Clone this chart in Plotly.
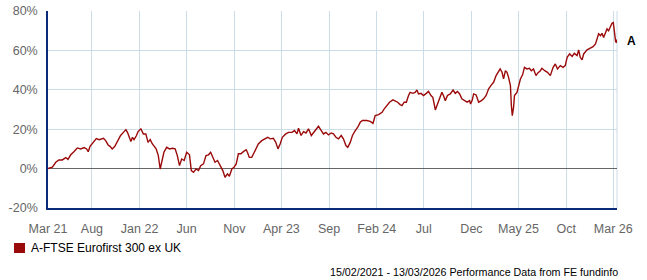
import pandas as pd
import plotly.graph_objects as go

START = "2021-03-13"
END = "2026-03-13"

# days since START and cumulative performance (%)
day_offsets = [0, 14, 25, 35, 46, 57, 64, 73, 83, 94, 105, 116, 124, 129, 135, 145, 155, 164, 178, 185,
               193, 199, 206, 214, 223, 233, 242, 250, 255, 260, 266, 271, 276, 284, 289, 298, 306, 314, 321, 328,
               335, 347, 354, 360, 365, 372, 381, 390, 400, 408, 415, 422, 429, 437, 445, 454, 460, 467, 475, 483,
               490, 499, 507, 515, 522, 529, 536, 544, 552, 561, 568, 576, 582, 590, 597, 604, 611, 619, 627, 636,
               640, 646, 654, 662, 668, 675, 686, 695, 705, 713, 723, 731, 738, 745, 752, 763, 772, 783, 791, 799,
               804, 812, 820, 828, 836, 845, 852, 860, 868, 877, 884, 892, 900, 909, 916, 924, 932, 941, 948, 956,
               962, 970, 977, 986, 994, 1002, 1009, 1023, 1034, 1043, 1050, 1061, 1072, 1079, 1088, 1096, 1107, 1114, 1122, 1130,
               1136, 1143, 1150, 1157, 1162, 1171, 1178, 1184, 1189, 1197, 1205, 1214, 1221, 1229, 1235, 1243, 1248, 1257, 1264, 1269,
               1275, 1282, 1291, 1300, 1307, 1314, 1321, 1328, 1336, 1345, 1353, 1356, 1361, 1366, 1374, 1382, 1391, 1398, 1406, 1414,
               1423, 1430, 1438, 1446, 1451, 1457, 1462, 1468, 1473, 1478, 1484, 1487, 1490, 1494, 1497, 1505, 1510, 1516, 1523, 1529,
               1537, 1545, 1551, 1558, 1566, 1572, 1580, 1585, 1594, 1603, 1612, 1621, 1628, 1635, 1644, 1653, 1660, 1666, 1674, 1682,
               1689, 1698, 1703, 1708, 1714, 1719, 1730, 1740, 1749, 1757, 1762, 1767, 1773, 1778, 1783, 1789, 1794, 1799, 1805, 1810,
               1814, 1818, 1822, 1824, 1826]

performance = [0.0, 0.7, 3.2, 4.4, 4.4, 5.6, 4.7, 7.0, 8.6, 10.5, 10.0, 10.7, 10.0, 8.6, 11.3, 13.0, 15.2, 14.7, 15.4, 14.2,
               12.0, 11.3, 10.0, 11.2, 14.2, 16.8, 18.4, 19.8, 18.4, 15.9, 13.7, 15.9, 14.7, 16.8, 18.8, 20.2, 17.6, 17.6, 13.3, 14.7,
               12.5, 10.0, 6.6, -0.2, 3.2, 8.3, 10.8, 10.0, 10.3, 10.0, 6.6, 1.5, 4.9, 4.1, 8.3, 7.0, -1.0, -1.9, -0.2, -1.0,
               1.5, 2.4, 6.6, 7.0, 8.3, 5.7, 3.2, 4.1, 1.5, -1.0, -4.4, -2.7, -3.9, -0.2, 0.7, 2.4, 7.5, 7.5, 8.6, 9.6,
               8.3, 5.7, 5.7, 8.3, 10.8, 12.5, 14.2, 15.1, 15.9, 15.1, 15.4, 13.3, 10.0, 12.5, 15.9, 17.6, 18.4, 18.4, 19.3, 17.6,
               20.5, 16.8, 18.8, 18.1, 20.2, 16.8, 18.4, 19.8, 21.5, 19.3, 17.6, 18.4, 17.1, 18.1, 17.6, 15.9, 15.1, 16.8, 15.1, 11.7,
               10.8, 13.3, 16.8, 19.3, 21.0, 23.5, 24.4, 24.4, 24.0, 23.0, 26.9, 27.4, 28.6, 30.3, 32.0, 33.7, 34.9, 34.5, 33.7, 32.5,
               32.0, 33.7, 33.7, 37.1, 38.7, 38.2, 38.7, 39.9, 37.9, 38.2, 37.1, 38.2, 39.2, 37.1, 36.2, 29.8, 32.0, 36.2, 38.7, 37.1,
               34.5, 37.1, 37.9, 39.9, 38.2, 39.2, 37.9, 35.4, 34.5, 33.7, 34.5, 32.8, 34.5, 37.9, 37.4, 33.7, 34.5, 35.4, 37.1, 40.5,
               42.5, 43.8, 47.2, 49.2, 50.6, 48.9, 45.5, 49.7, 48.9, 46.3, 42.1, 32.0, 26.9, 31.1, 37.1, 38.7, 42.1, 45.5, 47.6, 51.4,
               50.6, 50.9, 49.7, 50.6, 47.2, 48.6, 49.7, 50.9, 49.7, 48.9, 47.2, 51.4, 53.1, 50.6, 52.3, 51.4, 52.3, 56.5, 58.2, 56.9,
               58.5, 57.4, 60.3, 56.5, 55.2, 58.2, 60.3, 61.3, 61.9, 63.3, 65.8, 68.4, 67.5, 68.7, 66.6, 69.2, 70.9, 70.0, 72.6, 73.8,
               74.1, 67.5, 64.1, 65.5, 63.7]

tick_dates = ["2021-03-13", "2021-08-01", "2022-01-01", "2022-06-01", "2022-11-01", "2023-04-01", "2023-09-01",
              "2024-02-01", "2024-07-01", "2024-12-01", "2025-05-01", "2025-10-01", "2026-03-01"]
tick_labels = ["Mar 21", "Aug", "Jan 22", "Jun", "Nov", "Apr 23", "Sep", "Feb 24", "Jul", "Dec", "May 25", "Oct", "Mar 26"]

y_ticks = [-20, 0, 20, 40, 60, 80]
y_tick_labels = ["-20%", "0%", "20%", "40%", "60%", "80%"]

series_name = "A-FTSE Eurofirst 300 ex UK"
series_label = "A"
footer = "15/02/2021 - 13/03/2026 Performance Data from FE fundinfo"

dates = pd.Timestamp(START) + pd.to_timedelta(day_offsets, unit="D")

LINE = "#9b0a0a"
GRID = "#cddde8"
AXIS = "#0a2a7a"
FONT = "Liberation Sans, Arial, sans-serif"

W, H = 647, 280
ML, MR, MT, MB = 48, 30, 11, 72
PW, PH = W - ML - MR, H - MT - MB


def px_x(px):
    return (px - ML) / PW


def px_y(py):
    return (H - MB - py) / PH


fig = go.Figure()
fig.add_trace(go.Scatter(x=dates, y=performance, mode="lines", name=series_name,
                         line=dict(color=LINE, width=1.4), showlegend=False, hoverinfo="skip"))

fig.update_layout(
    width=W, height=H,
    margin=dict(l=ML, r=MR, t=MT, b=MB, autoexpand=False),
    paper_bgcolor="white", plot_bgcolor="white",
    font=dict(family=FONT, size=12, color="#666666"),
    showlegend=False,
    xaxis=dict(type="date", range=[START, END], tickvals=tick_dates, ticktext=tick_labels,
               showgrid=True, gridcolor=GRID, gridwidth=1,
               showline=True, linecolor=AXIS, linewidth=1.5,
               ticks="outside", ticklen=8, tickcolor="rgba(0,0,0,0)", automargin=False,
               tickfont=dict(size=12.5, color="#666666"), zeroline=False, fixedrange=True),
    yaxis=dict(range=[-20, 80], tickvals=y_ticks, ticktext=y_tick_labels,
               showgrid=True, gridcolor=GRID, gridwidth=1,
               showline=True, linecolor=AXIS, linewidth=1.5,
               ticks="outside", ticklen=6, tickcolor="rgba(0,0,0,0)", automargin=False,
               tickfont=dict(size=12.5, color="#666666"),
               zeroline=True, zerolinecolor="#666666", zerolinewidth=1, fixedrange=True),
    shapes=[
        dict(type="line", xref="paper", yref="paper", x0=1, x1=1, y0=0, y1=1,
             line=dict(color=GRID, width=1), layer="below"),
        # legend swatch
        dict(type="rect", xref="paper", yref="paper",
             x0=px_x(14), x1=px_x(25), y0=px_y(253), y1=px_y(243),
             fillcolor=LINE, line=dict(width=0)),
    ],
    annotations=[
        dict(x=dates[-1], y=performance[-1], xref="x", yref="y", text="<b>" + series_label + "</b>",
             showarrow=False, xanchor="left", yanchor="middle", xshift=8, yshift=2,
             font=dict(family=FONT, size=12, color="#000000")),
        dict(x=px_x(29), y=px_y(248), xref="paper", yref="paper", text=series_name, showarrow=False,
             xanchor="left", yanchor="middle", font=dict(family=FONT, size=12, color="#000000")),
        dict(x=1.0, y=px_y(272), xref="paper", yref="paper", text=footer, showarrow=False,
             xanchor="right", yanchor="middle", xshift=3,
             font=dict(family=FONT, size=10.7, color="#000000")),
    ],
)

fig.write_html("out.html")
